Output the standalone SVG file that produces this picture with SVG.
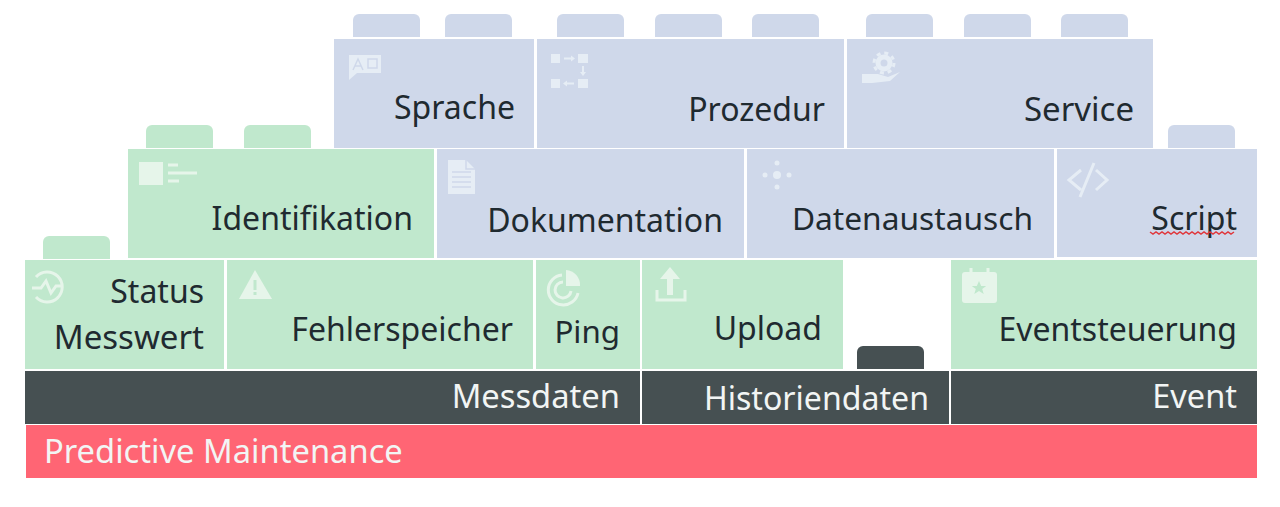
<svg xmlns="http://www.w3.org/2000/svg" width="1280" height="507" viewBox="0 0 1280 507">
<style>
.b{fill:#cfd8ea}.g{fill:#c0e8cd}.d{fill:#465052}.r{fill:#ff6574}
text{font-family:"Noto Sans","Open Sans","Liberation Sans",sans-serif;font-size:32px;text-anchor:end;fill:#1f2a30}
text.w{fill:#f2f5f4;font-size:32.700px}
.ic{fill:#e6edf5;stroke:none}.il{fill:none;stroke:#e6edf5;stroke-width:3}
.icg{fill:#e6f5ea;stroke:none}.ilg{fill:none;stroke:#e6f5ea;stroke-width:3}
</style>
<defs>
<path id="stud" d="M0 23V6a6 6 0 0 1 6-6H61a6 6 0 0 1 6 6V23Z"/>
</defs>
<rect width="1280" height="507" fill="#fff"/>
<g id="connectors"></g>
<g id="studs-blue" class="b">
<use href="#stud" x="353" y="14"/><use href="#stud" x="445" y="14"/><use href="#stud" x="557" y="14"/><use href="#stud" x="655" y="14"/><use href="#stud" x="752" y="14"/><use href="#stud" x="866" y="14"/><use href="#stud" x="964" y="14"/><use href="#stud" x="1061" y="14"/><use href="#stud" x="1168" y="125"/>
</g>
<g id="studs-green" class="g">
<use href="#stud" x="146" y="125"/><use href="#stud" x="244" y="125"/><use href="#stud" x="43" y="236"/>
</g>
<use id="stud-dark" href="#stud" x="857" y="346" class="d"/>

<g id="sprache"><rect class="b" x="334" y="39" width="200" height="109"/>
<path class="ic" d="M349 55H381V73H357L349 80Z"/><path fill="none" stroke="#cfd8ea" stroke-width="1.500" d="M353 70L358 59L363 70M355 66H361M368 59H377V68H368Z"/><text x="515" y="119">Sprache</text></g>
<g id="prozedur"><rect class="b" x="537" y="39" width="307" height="109"/>
<g class="ic"><rect x="551" y="54" width="9" height="9"/><rect x="578" y="54" width="10" height="9"/><rect x="551" y="79" width="9" height="9"/><rect x="578" y="79" width="10" height="9"/><path d="M564 57.500H571V55.500L575 58.500L571 61.500V59.500H564Z"/><path d="M574 82.500H567V80.500L563 83.500L567 86.500V84.500H574Z"/><path d="M582 66H584V72H586L583 76L580 72H582Z"/></g>
<text x="825" y="121">Prozedur</text></g>
<g id="service"><rect class="b" x="847" y="39" width="306" height="109"/>
<circle cx="884" cy="63" r="6" fill="none" stroke="#e6edf5" stroke-width="5"/><circle cx="884" cy="63" r="10" fill="none" stroke="#e6edf5" stroke-width="3" stroke-dasharray="4 3.850"/><path class="ic" d="M862 74H878L888 77L900 72L890 81L872 83H862Z"/><text x="1134" y="121" style="font-size:33px">Service</text></g>

<g id="identifikation"><rect class="g" x="128" y="149" width="306" height="109"/>
<rect class="icg" x="139" y="162" width="24" height="23"/><path class="ilg" stroke-width="2" d="M168 165H178M168 173H197M168 181H179"/><text x="413" y="230">Identifikation</text></g>
<g id="dokumentation"><rect class="b" x="437" y="149" width="307" height="109"/>
<path class="ic" d="M448 160H466L475 169V194H448Z"/><path fill="none" stroke="#cfd8ea" stroke-width="1.500" d="M466 160V169H475M452 172H471M452 177H471M452 182H471M452 187H471"/><text x="723" y="232">Dokumentation</text></g>
<g id="datenaustausch"><rect class="b" x="747" y="149" width="307" height="109"/>
<g class="ic"><circle cx="777" cy="175" r="4"/><circle cx="777" cy="163" r="2.500"/><circle cx="777" cy="187" r="2.500"/><circle cx="765" cy="175" r="2.500"/><circle cx="789" cy="175" r="2.500"/></g>
<text x="1033" y="230" style="font-size:31.700px">Datenaustausch</text></g>
<g id="script"><rect class="b" x="1057" y="149" width="200" height="108"/>
<path class="il" stroke-width="4" d="M1081 170L1069 180L1081 190M1096 170L1107 180L1096 190M1094 163L1080 197"/><text x="1237" y="230">Script</text>
<path fill="none" stroke="#e0393e" stroke-width="1.500" d="M1150 232l3 2 3-2 3 2 3-2 3 2 3-2 3 2 3-2 3 2 3-2 3 2 3-2 3 2 3-2 3 2 3-2 3 2 3-2 3 2 3-2 3 2 3-2 3 2 3-2 3 2 3-2 3 2 3-2"/></g>

<g id="status"><rect class="g" x="25" y="260" width="199" height="109"/>
<path class="ilg" d="M36 277A15 15 0 1 1 36 297"/><path class="ilg" d="M32 288H41L46 281L51 293L56 286H62"/><text x="204" y="303">Status</text><text x="204" y="349" style="font-size:33px">Messwert</text></g>
<g id="fehlerspeicher"><rect class="g" x="227" y="260" width="306" height="109"/>
<path class="icg" d="M255 270L272 299H239Z"/><rect class="g" x="253.500" y="280" width="3" height="10"/><rect class="g" x="253.500" y="292" width="3" height="3"/><text x="513" y="341">Fehlerspeicher</text></g>
<g id="ping"><rect class="g" x="536" y="260" width="104" height="109"/>
<path class="ilg" stroke-width="3" d="M562 275A15 15 0 1 0 578 293M563 282A8 8 0 1 0 571 291"/><path class="icg" d="M566 270A15 15 0 0 1 580 286H566Z"/><text x="620" y="343" style="font-size:31.300px">Ping</text></g>
<g id="upload"><rect class="g" x="642" y="260" width="201" height="109"/>
<path class="icg" d="M670 267L680 279H673V295H667V279H660Z"/><path class="ilg" stroke-width="4" d="M657 290V300H685V290"/><text x="822" y="340">Upload</text></g>
<g id="eventsteuerung"><rect class="g" x="951" y="260" width="306" height="109"/>
<rect class="icg" x="962" y="272" width="35" height="31" rx="3"/><path class="ilg" d="M971 268V277M988 268V277" stroke-width="3"/><path class="g" d="M979 281l2.200 5h5l-4 3 1.500 5-4.700-3-4.700 3 1.500-5-4-3h5Z"/><text x="1237" y="341">Eventsteuerung</text></g>

<g id="messdaten"><rect class="d" x="25" y="371" width="615" height="53"/><text class="w" x="620" y="408">Messdaten</text></g>
<g id="historiendaten"><rect class="d" x="642" y="371" width="307" height="53"/><text class="w" x="929" y="410" style="font-size:32.100px">Historiendaten</text></g>
<g id="event"><rect class="d" x="951" y="371" width="306" height="53"/><text class="w" x="1237" y="408" style="font-size:32.500px">Event</text></g>
<g id="predictive-maintenance"><rect class="r" x="26" y="425" width="1231" height="53"/><text class="w" x="44" y="463" style="text-anchor:start">Predictive Maintenance</text></g>
</svg>
